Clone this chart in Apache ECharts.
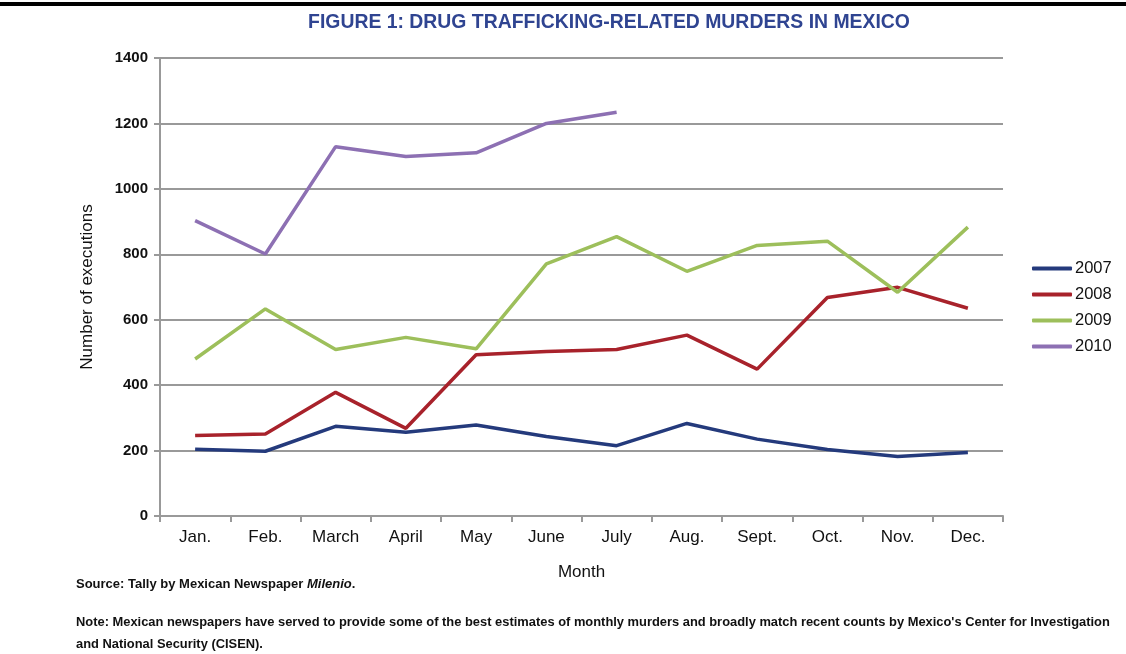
<!DOCTYPE html>
<html><head><meta charset="utf-8">
<script src="https://cdn.jsdelivr.net/npm/echarts@6/dist/echarts.min.js"></script>
<style>html,body{margin:0;padding:0;background:#fff}#c{width:1126px;height:654px}</style>
</head><body><div id="c"></div>
<script>
const months = ['Jan.','Feb.','March','April','May','June','July','Aug.','Sept.','Oct.','Nov.','Dec.'];
const y2007 = [204,198,274,256,278,243,215,283,235,203,182,194];
const y2008 = [246,251,378,268,493,503,509,553,449,668,699,635];
const y2009 = [480,633,509,546,511,771,854,748,827,840,684,883];
const y2010 = [903,801,1129,1099,1110,1200,1234];
const seriesNames = ['2007','2008','2009','2010'];
const colors = ['#243a7c','#a8222b','#9dbf5b','#8d70b3'];
const FONT = "'Liberation Sans',sans-serif";

const chart = echarts.init(document.getElementById('c'), null, {renderer:'canvas'});
const data = [y2007,y2008,y2009,y2010];
chart.setOption({
  backgroundColor:'#fff',
  animation:false,
  title:{text:'FIGURE 1: DRUG TRAFFICKING-RELATED MURDERS IN MEXICO',left:604,textAlign:'center',top:8,
    textStyle:{fontFamily:FONT,fontWeight:'bold',fontSize:19.4,color:'#2f4491'}},
  graphic:[
    {type:'rect',shape:{x:0,y:2,width:1126,height:4},style:{fill:'#000'}},
    {type:'text',left:76,top:578,style:{rich:{a:{fontFamily:FONT,fontSize:13,fontWeight:'bold',fill:'#111'},i:{fontFamily:FONT,fontSize:13,fontWeight:'bold',fontStyle:'italic',fill:'#111'}},text:'{a|Source: Tally by Mexican Newspaper }{i|Milenio}{a|.}'}},
    {type:'text',left:76,top:611,style:{fontFamily:FONT,fontSize:12.9,fontWeight:'bold',fill:'#111',lineHeight:22,
      text:"Note: Mexican newspapers have served to provide some of the best estimates of monthly murders and broadly match recent counts by Mexico's Center for Investigation\nand National Security (CISEN)."}}
  ],
  legend:{orient:'vertical',left:1027,top:255,itemGap:9,itemWidth:40,itemHeight:4,icon:'roundRect',
    data:seriesNames,textStyle:{fontFamily:FONT,fontSize:16.5,color:'#111',padding:[0,0,0,-2]}},
  grid:{left:160,right:123,top:58,bottom:138},
  xAxis:{type:'category',data:months,boundaryGap:true,name:'Month',nameLocation:'middle',nameGap:48,
    nameTextStyle:{fontFamily:FONT,fontSize:17,color:'#111'},
    axisLine:{lineStyle:{color:'#999',width:2}},
    axisTick:{show:true,length:6,lineStyle:{color:'#999',width:2}},
    axisLabel:{fontFamily:FONT,fontSize:17,color:'#111',margin:13}},
  yAxis:{type:'value',min:0,max:1400,interval:200,name:'Number of executions',nameLocation:'middle',nameGap:64,
    nameTextStyle:{fontFamily:FONT,fontSize:17,color:'#111'},
    axisLine:{show:true,lineStyle:{color:'#999',width:2}},
    axisTick:{show:true,length:6,lineStyle:{color:'#999',width:2}},
    splitLine:{lineStyle:{color:'#999',width:2}},
    axisLabel:{fontFamily:FONT,fontSize:15,fontWeight:'bold',color:'#111',margin:12,formatter:v=>String(v)}},
  series: seriesNames.map((n,i)=>({name:n,type:'line',data:data[i],symbol:'none',
    lineStyle:{color:colors[i],width:3.5},itemStyle:{color:colors[i]}}))
});
</script></body></html>
